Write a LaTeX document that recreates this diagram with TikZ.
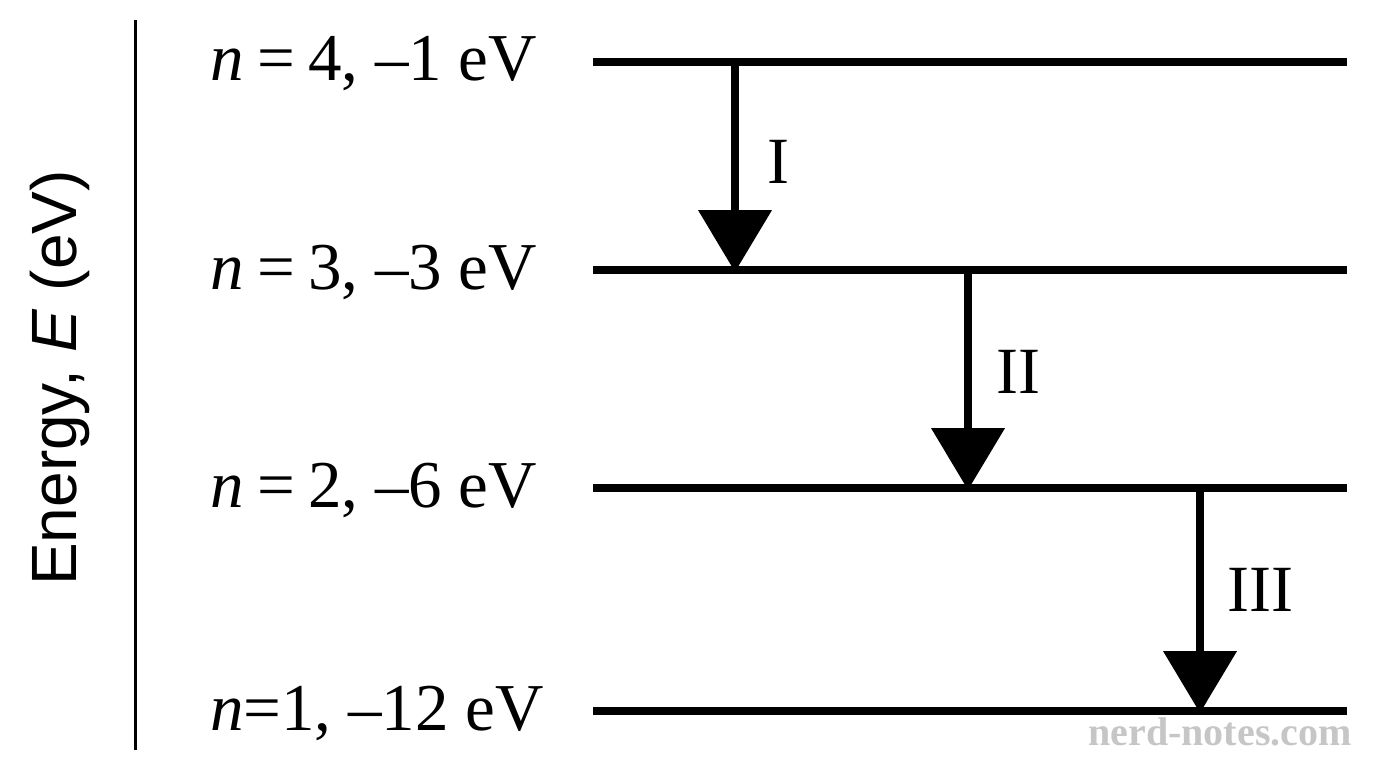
\documentclass[tikz,border=0pt]{standalone}
\usepackage{fontspec}
\setmainfont{Liberation Serif}
\setsansfont{Liberation Sans}
\usetikzlibrary{arrows.meta}
\begin{document}
\begin{tikzpicture}[x=1pt,y=-1pt,
  level/.style={line width=8pt},
  lab/.style={anchor=west,inner sep=0pt,font=\fontsize{67}{69}\selectfont},
  trans/.style={line width=8pt,-{Triangle[width=72pt,length=62pt]},shorten >=-2pt},
  rom/.style={inner sep=0pt,font=\fontsize{66}{68}\selectfont}]
\useasboundingbox (0,0) rectangle (1376,768);
\draw[line width=3pt] (135,20) -- (135,750);
\node[rotate=90,font=\sffamily\fontsize{64}{66}\selectfont] (ax) at (60,378) {Energy, \textit{E} (eV)};
\foreach \n/\y in {4/62,3/270,2/488,1/711}{
  \coordinate (a\n) at (593,\y); \coordinate (b\n) at (1347,\y);
  \draw[level] (a\n) -- (b\n);}
\node[lab] (l4) at (210,64) {\textit{n}\hspace{0.2em}=\hspace{0.2em}4, –1 eV};
\node[lab] (l3) at (210,272) {\textit{n}\hspace{0.2em}=\hspace{0.2em}3, –3 eV};
\node[lab] (l2) at (210,490) {\textit{n}\hspace{0.2em}=\hspace{0.2em}2, –6 eV};
\node[lab] (l1) at (210,713) {\textit{n}=1, –12 eV};
\coordinate (s1) at (735,62); \coordinate (e1) at (735,270);
\coordinate (s2) at (968,270); \coordinate (e2) at (968,488);
\coordinate (s3) at (1200,488); \coordinate (e3) at (1200,711);
\draw[trans] (s1) -- (e1);
\draw[trans] (s2) -- (e2);
\draw[trans] (s3) -- (e3);
\node[rom] (r1) at (778,162) {I};
\node[rom] (r2) at (1018,372) {II};
\node[rom] (r3) at (1260,590) {III};
\node[text=gray!45,font=\bfseries\fontsize{40}{42}\selectfont,inner sep=0pt] (wm) at (1220,732) {nerd-notes.com};
\end{tikzpicture}
\end{document}
